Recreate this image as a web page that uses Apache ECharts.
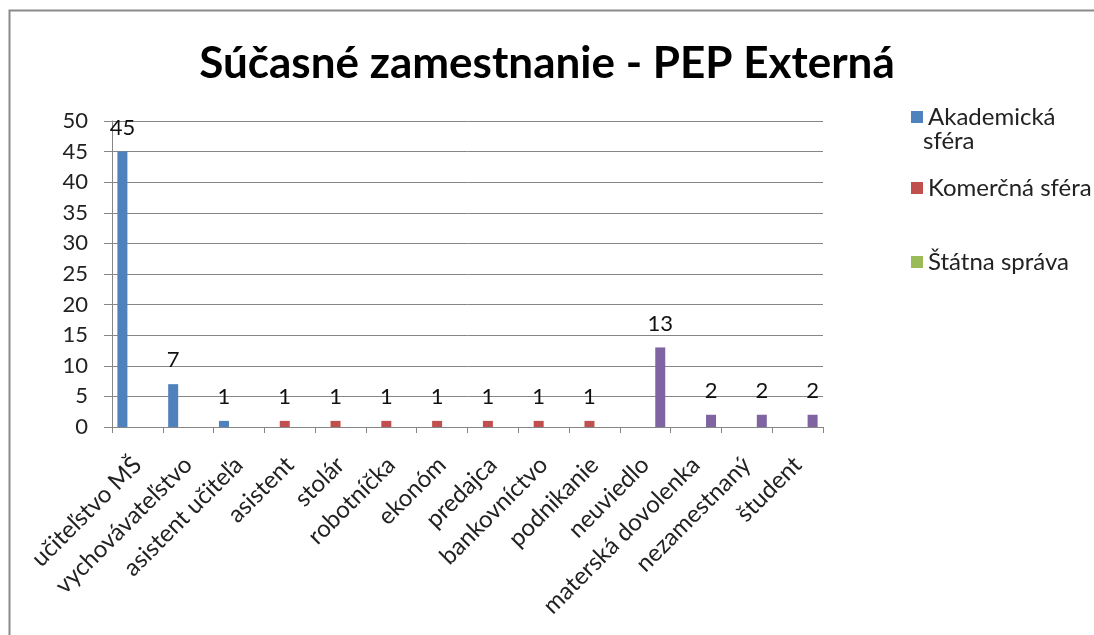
<!DOCTYPE html>
<html>
<head>
<meta charset="utf-8">
<title>Súčasné zamestnanie - PEP Externá</title>
<style>
  html, body { margin: 0; padding: 0; background: #fff; }
  #main { width: 1094px; height: 635px; }
</style>
</head>
<body>
<div id="main"></div>
<script src="https://cdn.jsdelivr.net/npm/echarts@6/dist/echarts.min.js"></script>
<script>
// data
var categories = ['učiteľstvo MŠ', 'vychovávateľstvo', 'asistent učiteľa', 'asistent', 'stolár',
  'robotníčka', 'ekonóm', 'predajca', 'bankovníctvo', 'podnikanie', 'neuviedlo',
  'materská dovolenka', 'nezamestnaný', 'študent'];
var akademicka = [45, 7, 1, '-', '-', '-', '-', '-', '-', '-', '-', '-', '-', '-'];
var komercna   = ['-', '-', '-', 1, 1, 1, 1, 1, 1, 1, '-', '-', '-', '-'];
var statna     = ['-', '-', '-', '-', '-', '-', '-', '-', '-', '-', '-', '-', '-', '-'];
var ostatne    = ['-', '-', '-', '-', '-', '-', '-', '-', '-', '-', 13, 2, 2, 2];
var yTicks = { min: 0, max: 50, step: 5 };

var font = 'Lato';
var chart = echarts.init(document.getElementById('main'));

function bar(name, data, color) {
  return {
    name: name,
    type: 'bar',
    data: data,
    barWidth: 10,
    barGap: '0%',
    itemStyle: { color: color },
    label: {
      show: true, position: 'top', distance: 13,
      fontFamily: font, fontSize: 22, color: '#111'
    }
  };
}

// one legend per item, so the uneven spacing of the original can be kept
function legendItem(name, top) {
  return {
    data: [name], orient: 'vertical', left: 906, top: top,
    itemWidth: 12, itemHeight: 12, icon: 'rect',
    textStyle: { fontFamily: font, fontSize: 24, color: '#222', lineHeight: 30 },
    formatter: function (n) { return n === 'Akademická sféra' ? 'Akademická' : n; }
  };
}

chart.setOption({
  animation: false,
  backgroundColor: '#fff',
  graphic: [{
    type: 'rect', left: 7, top: 8,
    shape: { width: 2000, height: 1000 },
    style: { fill: 'none', stroke: '#8a8a8a', lineWidth: 2 }
  }, {
    // second line of the wrapped legend label
    type: 'text', left: 923, top: 129,
    style: { text: 'sféra', fontFamily: font, fontSize: 24, fill: '#222' }
  }],
  title: {
    text: 'Súčasné zamestnanie - PEP Externá',
    left: 'center', top: 37,
    textStyle: { fontFamily: font, fontSize: 44, fontWeight: 'bold', color: '#000' }
  },
  legend: [
    legendItem('Akademická sféra', 97),
    legendItem('Komerčná sféra', 168),
    legendItem('Štátna správa', 242)
  ],
  grid: { left: 112, right: 271, top: 121, bottom: 208 },
  xAxis: {
    type: 'category',
    data: categories,
    axisLine: { lineStyle: { color: '#868686' } },
    axisTick: { show: true, length: 6, lineStyle: { color: '#868686' } },
    axisLabel: {
      rotate: 45, interval: 0, margin: 34,
      fontFamily: font, fontSize: 24, color: '#222'
    }
  },
  yAxis: {
    type: 'value',
    min: yTicks.min, max: yTicks.max, interval: yTicks.step,
    axisLine: { show: true, lineStyle: { color: '#868686' } },
    axisTick: { show: true, length: 8, lineStyle: { color: '#868686' } },
    axisLabel: { margin: 24, fontFamily: font, fontSize: 22, color: '#222' },
    splitLine: { lineStyle: { color: '#868686' } }
  },
  series: [
    bar('Akademická sféra', akademicka, '#4F81BD'),
    bar('Komerčná sféra', komercna, '#C0504D'),
    bar('Štátna správa', statna, '#9BBB59'),
    bar('Ostatné', ostatne, '#8064A2')
  ]
});
</script>
</body>
</html>
